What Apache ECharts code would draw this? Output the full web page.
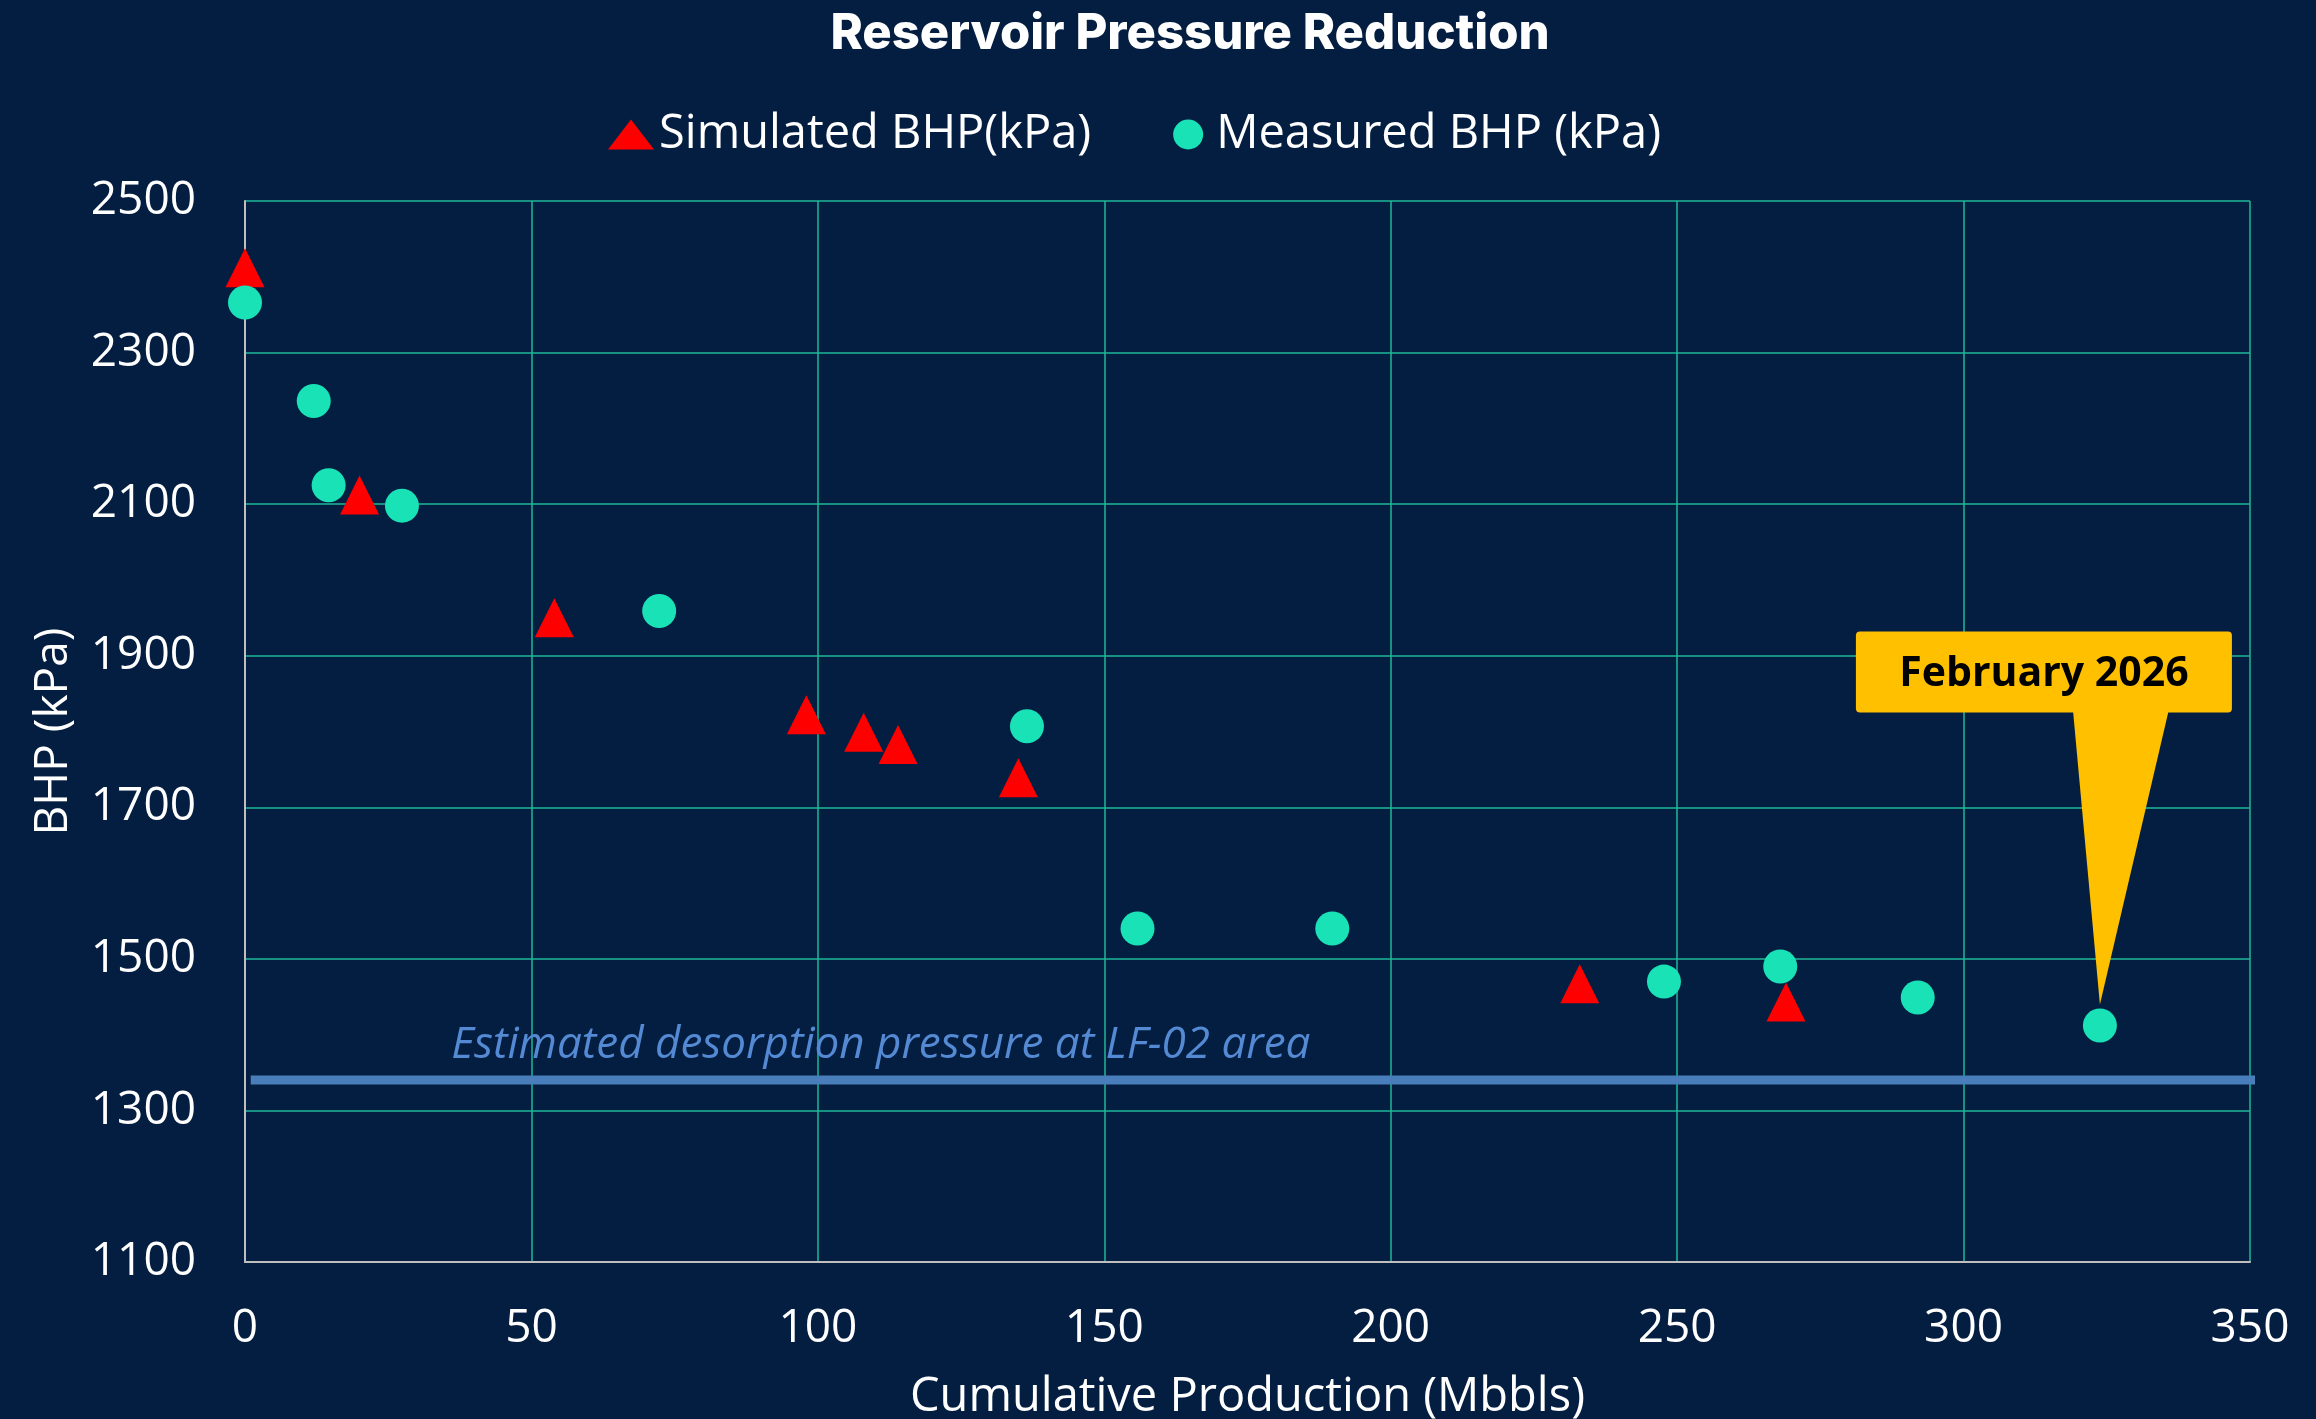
<!DOCTYPE html>
<html><head><meta charset="utf-8">
<script src="https://cdn.jsdelivr.net/npm/echarts@6/dist/echarts.min.js"></script>
<style>html,body{margin:0;padding:0;background:#041e42;}#c{width:2316px;height:1419px;}</style>
</head><body><div id="c"></div>
<script>
// ---- data ----
const titleText = 'Reservoir Pressure Reduction';
const simName = 'Simulated BHP(kPa)';
const measName = 'Measured BHP (kPa)';
const xAxisName = 'Cumulative Production (Mbbls)';
const yAxisName = 'BHP (kPa)';
const simX = [0, 20, 54, 98, 108, 114, 135, 233, 269];
const simY = [2412, 2112, 1950, 1822, 1799, 1783, 1739, 1467, 1443];
const measX = [0, 12, 14.6, 27.4, 72.3, 136.5, 155.8, 189.8, 247.7, 268, 292, 323.8];
const measY = [2366, 2236, 2125, 2098, 1959, 1807, 1540, 1540, 1470, 1490, 1449, 1412];
const desorpX = [1, 352];
const desorpY = 1340;
const desorpText = 'Estimated desorption pressure at LF-02 area';
const desorpLabelX = 36;
const calloutText = 'February 2026';
const xTicks = [0, 50, 100, 150, 200, 250, 300, 350];
const yTicks = [1100, 1300, 1500, 1700, 1900, 2100, 2300, 2500];

const FONT = '"Open Sans", "Noto Sans", sans-serif';
const GRIDC = '#1fb99a';

const simData = simX.map((x, i) => [x, simY[i]]);
const measData = measX.map((x, i) => [x, measY[i]]);
const desorpData = desorpX.map(x => [x, desorpY]);
const lastIdx = measX.length - 1;

const chart = echarts.init(document.getElementById('c'));
chart.setOption({
  backgroundColor: '#041e42',
  animation: false,
  title: {
    text: titleText, left: 1190, top: 10, padding: 0, textAlign: 'center',
    textStyle: { color: '#fff', fontFamily: 'Inter, sans-serif', fontWeight: 800, fontSize: 49 }
  },
  legend: {
    data: [simName, measName], left: 608, top: 111, padding: 0,
    itemWidth: 46, itemHeight: 30, itemGap: 82,
    textStyle: { color: '#fff', fontFamily: FONT, fontSize: 47 }
  },
  grid: { left: 245, right: 66, top: 201, bottom: 157, containLabel: false, outerBoundsMode: 'none' },
  xAxis: {
    type: 'value', min: xTicks[0], max: xTicks[xTicks.length - 1], interval: 50,
    name: xAxisName, nameLocation: 'middle', nameGap: 112,
    nameTextStyle: { color: '#fff', fontFamily: FONT, fontSize: 47 },
    axisLine: { show: true, onZero: false, lineStyle: { color: '#bfbfbf', width: 2 } },
    axisTick: { show: false },
    axisLabel: { color: '#fff', fontFamily: FONT, fontSize: 46, margin: 44 },
    splitLine: { show: true, lineStyle: { color: GRIDC, width: 1.5 } }
  },
  yAxis: {
    type: 'value', min: yTicks[0], max: yTicks[yTicks.length - 1], interval: 100,
    name: yAxisName, nameLocation: 'middle', nameGap: 168, nameRotate: 90,
    nameTextStyle: { color: '#fff', fontFamily: FONT, fontSize: 46 },
    axisLine: { show: true, lineStyle: { color: '#bfbfbf', width: 2 } },
    axisTick: { show: false },
    axisLabel: {
      color: '#fff', fontFamily: FONT, fontSize: 46, margin: 49,
      formatter: v => (yTicks.indexOf(v) >= 0 ? String(v) : '')
    },
    splitLine: { show: true, lineStyle: { color: [GRIDC, 'rgba(0,0,0,0)'], width: 1.5 } }
  },
  series: [
    {
      type: 'line', name: 'desorption', data: desorpData, symbol: 'none', clip: false,
      lineStyle: { color: '#4a7ebb', width: 9 }, z: 1, silent: true
    },
    {
      type: 'custom', name: 'desorpLabel', data: [[desorpLabelX, desorpY]], z: 2, silent: true,
      renderItem: (params, api) => {
        const p = api.coord([api.value(0), api.value(1)]);
        return { type: 'text', style: {
          text: desorpText, x: p[0], y: p[1] - 35, align: 'left', verticalAlign: 'middle',
          font: 'italic 44px ' + FONT, fill: '#5489d3' } };
      }
    },
    {
      type: 'scatter', name: simName, data: simData, symbol: 'triangle', symbolSize: 39,
      itemStyle: { color: '#ff0000', opacity: 1 }, z: 3
    },
    {
      type: 'scatter', name: measName, data: measData, symbol: 'circle', symbolSize: 34,
      itemStyle: { color: '#18e2b6', opacity: 1 }, z: 3
    },
    {
      type: 'custom', name: 'callout', data: [[measX[lastIdx], measY[lastIdx]]], z: 10, silent: true, clip: false,
      renderItem: (params, api) => {
        const p = api.coord([api.value(0), api.value(1)]);
        const x = p[0], y = p[1];
        return { type: 'group', children: [
          { type: 'polygon', shape: { points: [[x - 27, y - 316], [x + 69, y - 316], [x, y - 21]] }, style: { fill: '#ffc000' } },
          { type: 'rect', shape: { x: x - 244, y: y - 394, width: 376, height: 81, r: 4 }, style: { fill: '#ffc000' } },
          { type: 'text', style: { text: calloutText, x: x - 56, y: y - 351, align: 'center', verticalAlign: 'middle',
            font: 'bold 41px ' + FONT, fill: '#000' } }
        ] };
      }
    }
  ]
});
</script></body></html>
